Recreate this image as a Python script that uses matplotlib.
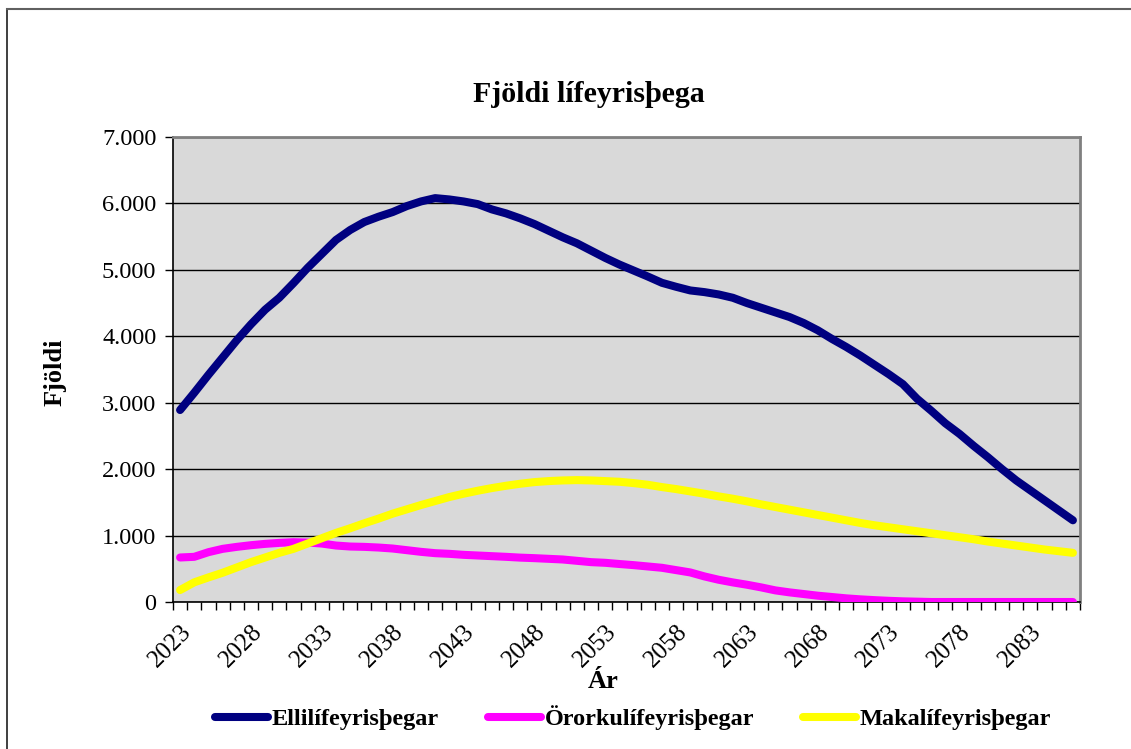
import matplotlib
matplotlib.use("Agg")
import numpy as np
import matplotlib.pyplot as plt
from matplotlib.ticker import FuncFormatter, MultipleLocator
from matplotlib.lines import Line2D

plt.rcParams['font.family'] = ['Liberation Serif', 'DejaVu Serif']

years = list(range(2023, 2087))

# Ellilífeyrisþegar
elli = [2890, 3150, 3420, 3680, 3940, 4180, 4400, 4580, 4800, 5030,
        5240, 5450, 5600, 5720, 5800, 5870, 5960, 6030, 6080, 6060,
        6030, 5990, 5910, 5850, 5775, 5690, 5590, 5490, 5400, 5290,
        5180, 5080, 4990, 4900, 4805, 4745, 4690, 4665, 4630, 4580,
        4500, 4430, 4360, 4290, 4200, 4090, 3960, 3840, 3710, 3570,
        3430, 3280, 3060, 2880, 2690, 2530, 2350, 2180, 2000, 1830,
        1680, 1530, 1380, 1230]

# Örorkulífeyrisþegar
ororka = [670, 680, 750, 800, 830, 855, 875, 890, 900, 895,
          880, 850, 835, 830, 820, 805, 780, 755, 735, 725,
          710, 700, 690, 680, 668, 660, 650, 640, 620, 600,
          590, 572, 555, 535, 515, 480, 445, 385, 335, 295,
          260, 220, 175, 145, 120, 95, 75, 55, 40, 28,
          18, 10, 5, 0, 0, 0, 0, 0, 0, 0,
          0, 0, 0, 0]

# Makalífeyrisþegar
maka = [180, 296, 370, 440, 520, 600, 670, 740, 800, 880,
        960, 1040, 1110, 1185, 1255, 1330, 1395, 1460, 1520, 1580,
        1630, 1675, 1715, 1750, 1780, 1805, 1820, 1830, 1835, 1830,
        1820, 1810, 1790, 1765, 1730, 1700, 1665, 1630, 1590, 1555,
        1515, 1470, 1430, 1390, 1350, 1310, 1270, 1230, 1190, 1155,
        1125, 1095, 1065, 1035, 1005, 975, 945, 910, 880, 850,
        820, 790, 765, 740]

series_names = ['Ellilífeyrisþegar', 'Örorkulífeyrisþegar', 'Makalífeyrisþegar']
colors = ['#000080', '#FF00FF', '#FFFF00']

W, H = 1131, 749
fig = plt.figure(figsize=(W / 100, H / 100), dpi=100)
ax = fig.add_axes([173/W, 1-602/H, 907/W, 465/H])
ax.set_facecolor('#D9D9D9')

x = np.arange(len(years))
for vals, name, c in zip([elli, ororka, maka], series_names, colors):
    ax.plot(x, vals, color=c, lw=5.8, label=name,
            solid_capstyle='round', solid_joinstyle='round', zorder=3)

ax.set_xlim(-0.5, len(years) - 0.5)
ax.set_ylim(0, 7000)
ax.yaxis.set_major_locator(MultipleLocator(1000))
ax.yaxis.set_major_formatter(FuncFormatter(lambda v, p: f"{int(v):,}".replace(",", ".")))
ax.grid(axis='y', color='black', lw=1.0, zorder=1)
ax.set_axisbelow(True)

lab_idx = x[::5]
ax.set_xticks(lab_idx)
ax.set_xticklabels([str(years[i]) for i in lab_idx], rotation=45,
                   ha='right', rotation_mode='anchor')
ax.set_xticks(np.arange(-0.5, len(years)), minor=True)
ax.tick_params(axis='x', which='major', length=0, pad=13.5, labelsize=18)
ax.tick_params(axis='x', which='minor', length=6, width=1, direction='out')
ax.tick_params(axis='y', length=6, width=1, labelsize=17.5, pad=6)

for s in ['top', 'right']:
    ax.spines[s].set_color('#808080')
    ax.spines[s].set_linewidth(2)
for s in ['left', 'bottom']:
    ax.spines[s].set_color('black')
    ax.spines[s].set_linewidth(1.2)

fig.text(589/W, 1-95/H, 'Fjöldi lífeyrisþega', fontsize=21.5, fontweight='bold',
         ha='center', va='center')
fig.text(55/W, 1-372/H, 'Fjöldi', fontsize=19, fontweight='bold',
         rotation=90, ha='center', va='center')
fig.text(603/W, 1-682/H, 'Ár', fontsize=19, fontweight='bold',
         ha='center', va='center')

fig.legend(loc='center', bbox_to_anchor=(633/W, 1-718/H), ncol=3,
           frameon=False, prop={'weight': 'bold', 'size': 17.5},
           handlelength=2.2, handletextpad=0.15, columnspacing=2.0)

# outer chart frame: only left and top edges fall inside the image
fig.add_artist(Line2D([7/W, 7/W], [0, 1-9/H], transform=fig.transFigure,
                      color='#303030', lw=1.3))
fig.add_artist(Line2D([7/W, 1], [1-9/H, 1-9/H], transform=fig.transFigure,
                      color='#606060', lw=1.5))

fig.savefig('out.png', dpi=100)
